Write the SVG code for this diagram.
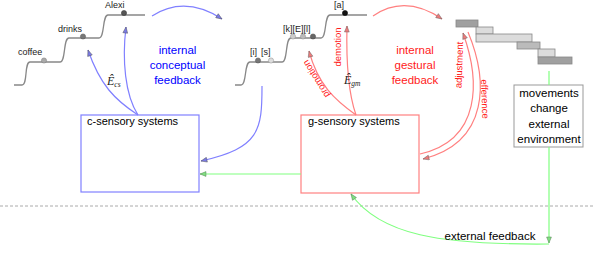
<svg xmlns="http://www.w3.org/2000/svg" width="593" height="258" viewBox="0 0 593 258">
  <style>
    .lbl { font-family: "Liberation Sans", Arial, sans-serif; fill: #000; }
    .small { font-size: 9px; fill: #222; }
    .box-text { font-size: 11px; }
    .env-text { font-size: 11.5px; text-anchor: middle; }
    .blue-text { font-family: "Liberation Sans", Arial, sans-serif; font-size: 11.5px; fill: #0000ff; text-anchor: middle; }
    .red-text { font-family: "Liberation Sans", Arial, sans-serif; font-size: 11.5px; fill: #ff1a1a; text-anchor: middle; }
    .rot-text { font-family: "Liberation Sans", Arial, sans-serif; font-size: 9.5px; fill: #ff1a1a; text-anchor: middle; }
    .math { font-family: "Liberation Serif", "Times New Roman", serif; font-style: italic; font-size: 12px; fill: #222; }
    .stair { fill: none; stroke: #888; stroke-width: 1.3; }
    .blue { fill: none; stroke: #8080ff; stroke-width: 1.2; }
    .red { fill: none; stroke: #ff8080; stroke-width: 1.2; }
    .green { fill: none; stroke: #80ff80; stroke-width: 1.2; }
    .bar { stroke: #888; stroke-width: 0.8; }
  </style>
  <defs>
    <marker id="ah-blue" viewBox="0 0 10 10" refX="10" refY="5" markerUnits="userSpaceOnUse" markerWidth="8" markerHeight="6" orient="auto">
      <path d="M0,1 L10,5 L0,9 z" fill="#7a7ae6" stroke="#555" stroke-width="0.8"/>
    </marker>
    <marker id="ah-red" viewBox="0 0 10 10" refX="10" refY="5" markerUnits="userSpaceOnUse" markerWidth="8" markerHeight="6" orient="auto">
      <path d="M0,1 L10,5 L0,9 z" fill="#ee7a7a" stroke="#666" stroke-width="0.8"/>
    </marker>
    <marker id="ah-green" viewBox="0 0 10 10" refX="10" refY="5" markerUnits="userSpaceOnUse" markerWidth="8" markerHeight="6" orient="auto">
      <path d="M0,1 L10,5 L0,9 z" fill="#80e080" stroke="#557755" stroke-width="0.8"/>
    </marker>
  </defs>

  <rect width="593" height="258" fill="#fff"/>

  <!-- boundary between internal and external -->
  <line x1="0" y1="206" x2="593" y2="206" stroke="#aaa" stroke-width="1" stroke-dasharray="3 2"/>

  <!-- conceptual staircase -->
  <g id="concept-stairs">
    <path class="stair" d="M14,85 L22,85 C28,85 24,62 30,62 L60,62 C66,62 63,38 69,38 L99,38 C105,38 102,15 108,15 L145,15"/>
    <circle cx="44" cy="60.5" r="2.6" fill="#aaa" stroke="#777" stroke-width="0.5"/>
    <circle cx="83" cy="36.5" r="2.6" fill="#777" stroke="#555" stroke-width="0.5"/>
    <circle cx="124" cy="13" r="2.6" fill="#555" stroke="#333" stroke-width="0.5"/>
    <text class="lbl small" x="18" y="55">coffee</text>
    <text class="lbl small" x="58" y="32">drinks</text>
    <text class="lbl small" x="105" y="8">Alexi</text>
  </g>

  <!-- gestural staircase -->
  <g id="gesture-stairs">
    <path class="stair" d="M235,85 L241,85 C247,85 244,62 250,62 L282,62 C288,62 285,38 291,38 L321,38 C327,38 324,15 330,15 L367,15"/>
    <circle cx="258" cy="60.5" r="2.6" fill="#777" stroke="#555" stroke-width="0.5"/>
    <circle cx="271" cy="60.5" r="2.6" fill="#ddd" stroke="#888" stroke-width="0.5"/>
    <circle cx="293" cy="36.5" r="2.6" fill="#ccc" stroke="#888" stroke-width="0.5"/>
    <circle cx="303" cy="36.5" r="2.6" fill="#bbb" stroke="#888" stroke-width="0.5"/>
    <circle cx="313" cy="36.5" r="2.6" fill="#666" stroke="#444" stroke-width="0.5"/>
    <circle cx="345" cy="13" r="2.6" fill="#111" stroke="#000" stroke-width="0.5"/>
    <text class="lbl small" x="250" y="55">[i]</text>
    <text class="lbl small" x="261" y="55">[s]</text>
    <text class="lbl small" x="283" y="32">[k][E][l]</text>
    <text class="lbl small" x="334" y="8">[a]</text>
  </g>

  <!-- gestural score -->
  <g id="gestural-score">
    <rect class="bar" x="456" y="20" width="22" height="7" fill="#a0a0a0"/>
    <rect class="bar" x="476" y="27" width="17" height="7" fill="#dcdcdc"/>
    <rect class="bar" x="476" y="34" width="56" height="8" fill="#dcdcdc"/>
    <rect class="bar" x="517" y="42" width="23" height="7" fill="#bbb"/>
    <rect class="bar" x="538" y="49" width="17" height="8" fill="#dcdcdc"/>
    <rect class="bar" x="538" y="57" width="34" height="7" fill="#a0a0a0"/>
  </g>

  <!-- feedback captions -->
  <g id="conceptual-caption">
    <text class="blue-text" x="177.5" y="54">internal</text>
    <text class="blue-text" x="177.5" y="69">conceptual</text>
    <text class="blue-text" x="177.5" y="84">feedback</text>
  </g>
  <g id="gestural-caption">
    <text class="red-text" x="415" y="54">internal</text>
    <text class="red-text" x="415" y="69">gestural</text>
    <text class="red-text" x="415" y="84">feedback</text>
  </g>

  <!-- nodes -->
  <g id="c-sensory">
    <rect x="81" y="115" width="118" height="77" fill="#fff" stroke="#8080ff" stroke-width="1.2"/>
    <text class="lbl box-text" x="87" y="125">c-sensory systems</text>
  </g>
  <g id="g-sensory">
    <rect x="301" y="115" width="118" height="78" fill="#fff" stroke="#ff8080" stroke-width="1.2"/>
    <text class="lbl box-text" x="308" y="125">g-sensory systems</text>
  </g>
  <g id="movements">
    <rect x="514" y="85" width="69" height="62" fill="#fff" stroke="#999" stroke-width="1"/>
    <text class="lbl env-text" x="549" y="97">movements</text>
    <text class="lbl env-text" x="549" y="112">change</text>
    <text class="lbl env-text" x="549" y="128">external</text>
    <text class="lbl env-text" x="549" y="143">environment</text>
  </g>

  <!-- connectors -->
  <g id="connectors">
    <!-- conceptual loop -->
    <path class="blue" d="M152,16 Q185,-5 222,19" marker-end="url(#ah-blue)"/>
    <path class="blue" d="M262,86 C262,130 260,148 201,161" marker-end="url(#ah-blue)"/>
    <path class="blue" d="M138,115 C125,95 122,60 126,27" marker-end="url(#ah-blue)"/>
    <path class="blue" d="M138,115 C115,100 100,85 88,50" marker-end="url(#ah-blue)"/>
    <!-- gestural loop -->
    <path class="red" d="M373,16 Q405,-6 442,19" marker-end="url(#ah-red)"/>
    <path class="red" d="M356,115 C349,95 346,65 347,26" marker-end="url(#ah-red)"/>
    <path class="red" d="M356,115 C335,100 318,85 309,51" marker-end="url(#ah-red)"/>
    <path class="red" d="M420,154 C482,140 480,80 463,33" marker-end="url(#ah-red)"/>
    <path class="red" d="M468,32 C488,80 490,142 423,159" marker-end="url(#ah-red)"/>
    <!-- external loop -->
    <path class="green" d="M301,174 L200,174" marker-end="url(#ah-green)"/>
    <path class="green" d="M549,71 L549,85"/>
    <path class="green" d="M549,147 L549,243" marker-end="url(#ah-green)"/>
    <path class="green" d="M549,244 C440,245 380,235 351,194" marker-end="url(#ah-green)"/>
  </g>

  <!-- connector labels -->
  <g id="connector-labels">
    <text class="math" x="107" y="85">Ê<tspan font-size="7.5" dy="2">cs</tspan></text>
    <text class="math" x="344" y="84">Ê<tspan font-size="7.5" dy="2">gm</tspan></text>
    <text class="rot-text" transform="translate(338,47) rotate(-90)" dy="0.35em">demotion</text>
    <text class="rot-text" transform="translate(316,79) rotate(-122)" dy="0.35em">promotion</text>
    <text class="rot-text" transform="translate(459,65) rotate(-88)" dy="0.35em">adjustment</text>
    <text class="rot-text" transform="translate(485,99) rotate(88)" dy="0.35em">efference</text>
    <text class="lbl env-text" x="490" y="240">external feedback</text>
  </g>
</svg>
